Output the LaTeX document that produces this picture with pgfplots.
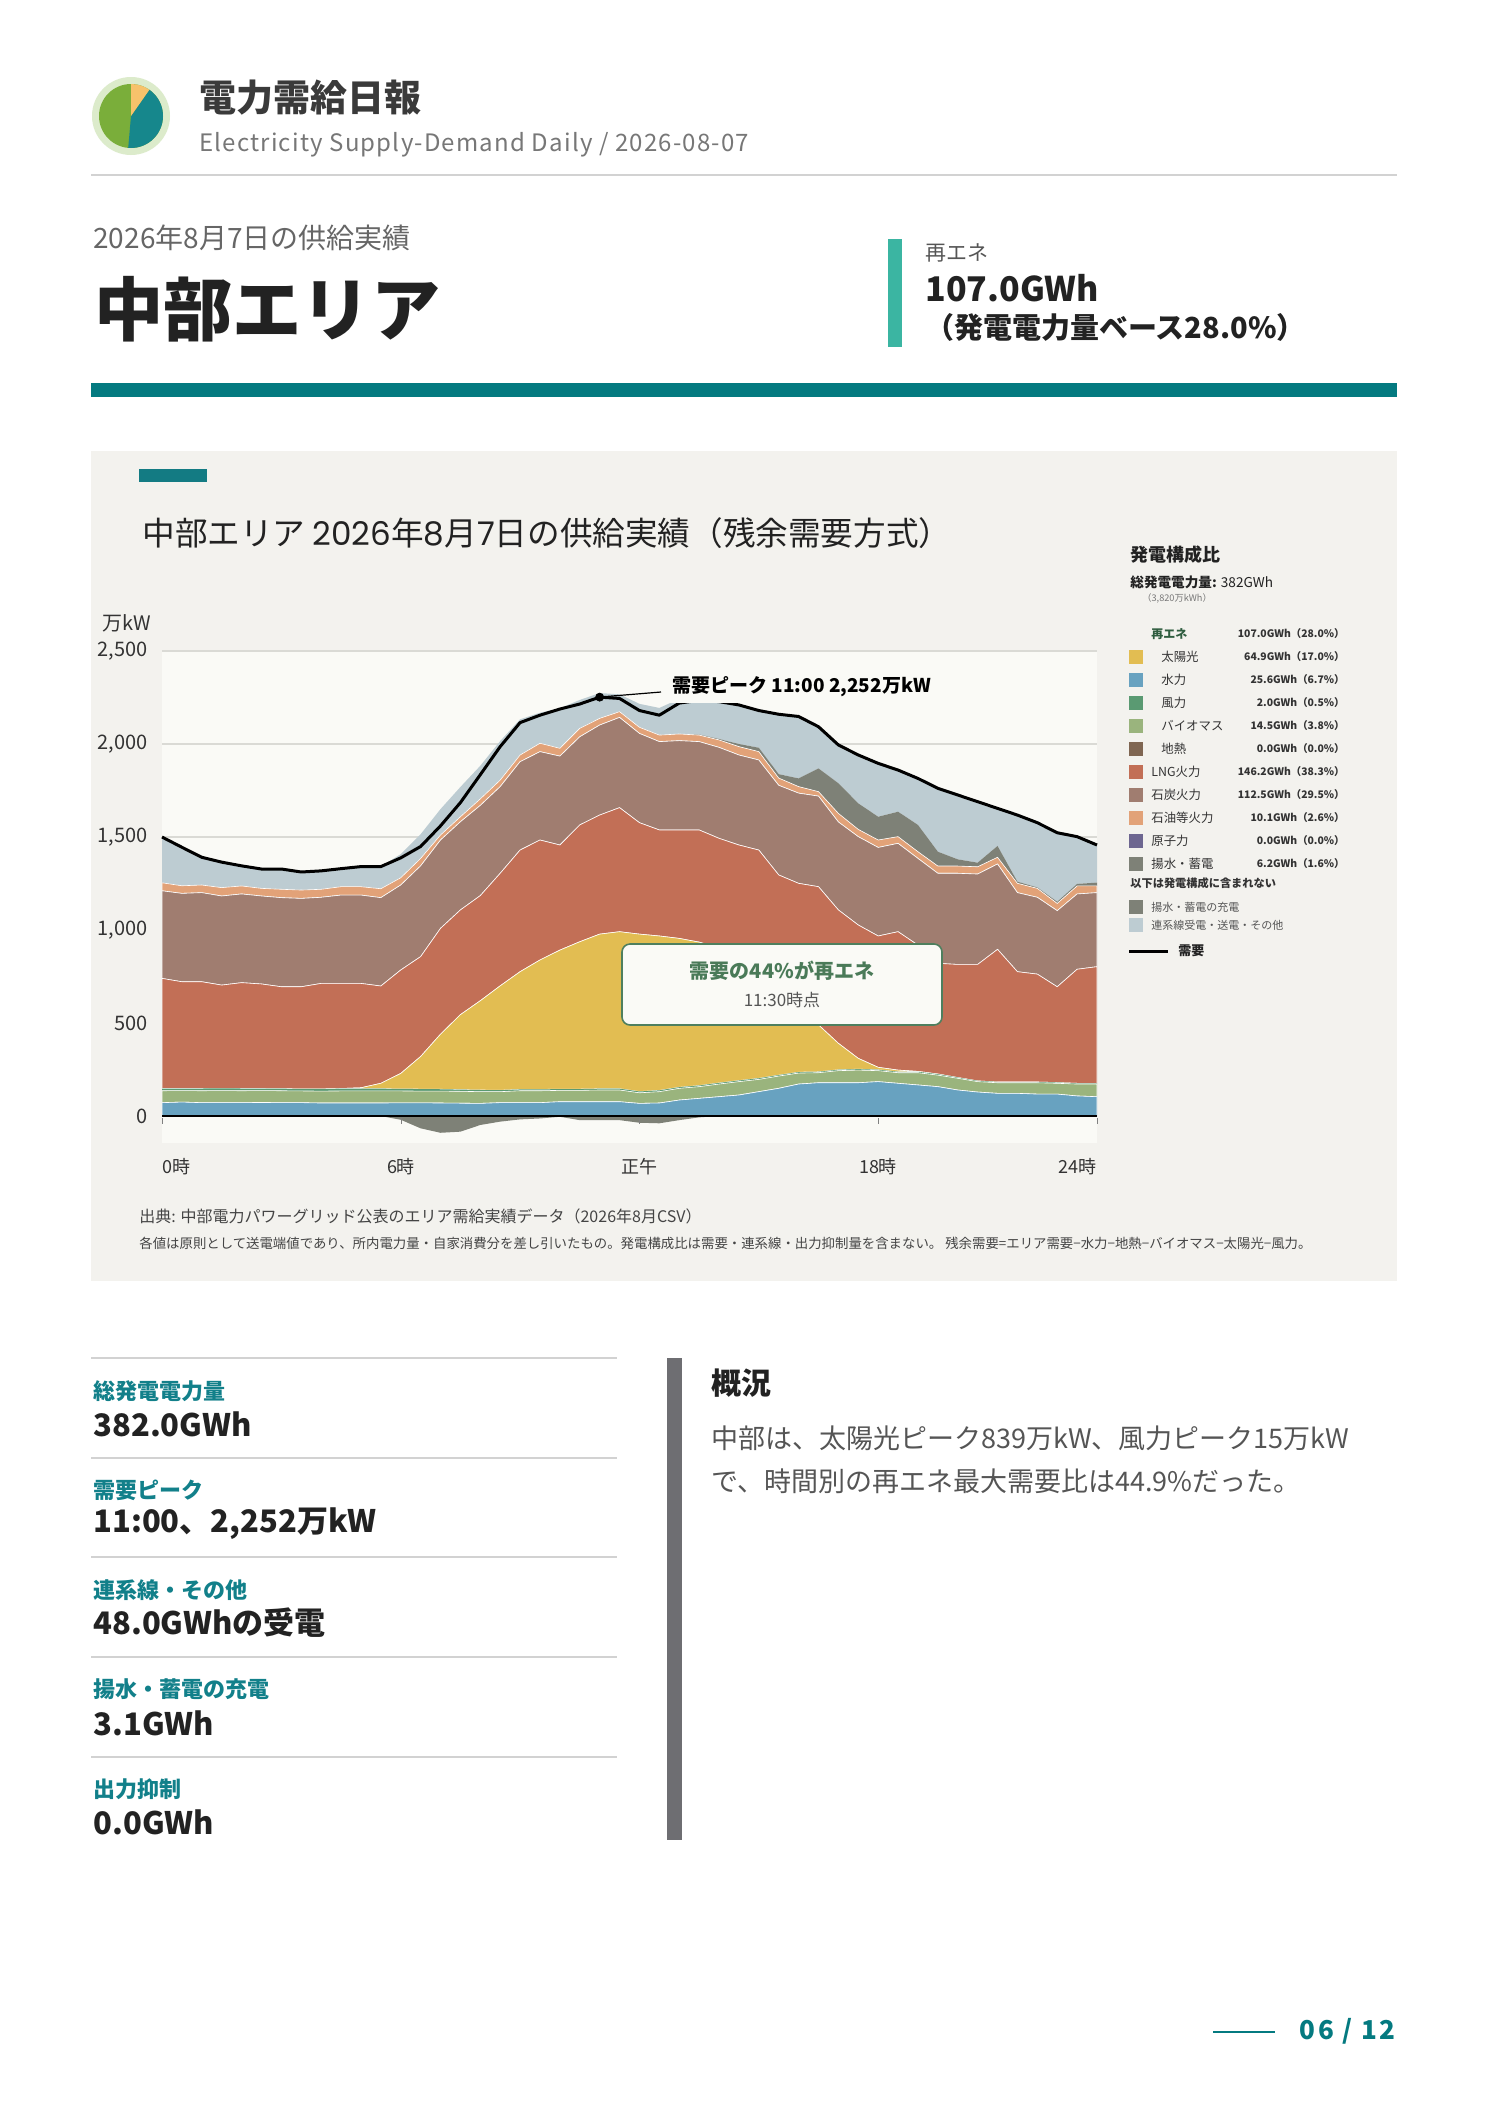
\documentclass[border=0pt]{standalone}
\usepackage{fontspec}
\setmainfont{Noto Sans CJK JP}
\newfontfamily\spaced[LetterSpace=5]{Noto Sans CJK JP}
\newfontfamily\spacedB[LetterSpace=10]{Noto Sans CJK JP}
\newfontfamily\pop{Poppins}
\usepackage{pgfplots}
\pgfplotsset{compat=1.18}
\usepackage{pgfplotstable}

\definecolor{hydroc}{HTML}{68A2C0}
\definecolor{biomc}{HTML}{9AB47D}
\definecolor{windc}{HTML}{5A9A72}
\definecolor{solarc}{HTML}{E2BD52}
\definecolor{geoc}{HTML}{7F6652}
\definecolor{lngc}{HTML}{C26F56}
\definecolor{coalc}{HTML}{A07D70}
\definecolor{oilc}{HTML}{E2A278}
\definecolor{nucc}{HTML}{6D6690}
\definecolor{pumpc}{HTML}{7E8177}
\definecolor{interc}{HTML}{BDCCD2}
\definecolor{plotbg}{HTML}{FAFAF6}
\definecolor{panel}{HTML}{F3F2EE}
\definecolor{gridc}{HTML}{DADAD5}
\definecolor{teal1}{HTML}{047A80}
\definecolor{teal2}{HTML}{137B83}
\definecolor{accent2}{HTML}{3BB5A2}
\definecolor{dark}{HTML}{222222}
\definecolor{hdr}{HTML}{3A3A3A}
\definecolor{subg}{HTML}{777777}
\definecolor{gray66}{HTML}{666666}
\definecolor{gray55}{HTML}{555555}
\definecolor{rulec}{HTML}{D2D2D2}
\definecolor{tickc}{HTML}{333333}
\definecolor{note}{HTML}{444444}
\definecolor{renegreen}{HTML}{2F5D3F}
\definecolor{boxgreen}{HTML}{4E7F5E}
\definecolor{boxtext}{HTML}{4A7A58}
\definecolor{labteal}{HTML}{12808A}
\definecolor{barc}{HTML}{6E6E72}
\definecolor{logoring}{HTML}{DCEBCB}
\definecolor{logogreen}{HTML}{7AAE3A}
\definecolor{logoteal}{HTML}{16878C}
\definecolor{logoorange}{HTML}{F7C26B}

\newcommand\fs[1]{\fontsize{#1}{#1}\selectfont}

\pgfplotstableread{
t Z H B W S L C O P X Q D
0.0 0 72 64 12 0 592 471 43 0 246 0 1500
0.5 0 75 62 11 0 574 475 41 0 207 0 1445
1.0 0 72 64 12 0 574 479 41 0 149 0 1391
1.5 0 72 65 12 0 555 479 45 0 137 0 1365
2.0 0 72 64 12 0 569 477 43 0 108 0 1345
2.5 0 73 64 11 0 562 473 41 0 104 0 1328
3.0 0 72 64 11 0 548 479 45 0 109 0 1328
3.5 0 72 63 11 0 549 475 45 0 97 0 1312
4.0 0 70 64 12 0 567 463 43 0 99 0 1318
4.5 0 70 65 12 1 565 475 45 0 97 0 1330
5.0 0 70 65 12 5 561 475 45 0 108 0 1341
5.5 0 70 65 12 29 523 475 48 0 119 0 1341
6.0 0 71 64 11 83 556 457 39 0 127 -20 1388
6.5 0 71 63 11 175 537 488 40 0 130 -66 1449
7.0 0 70 64 10 296 569 475 27 0 139 -90 1560
7.5 0 69 64 9 403 563 474 27 0 160 -84 1685
8.0 0 68 63 9 480 565 485 35 0 178 -48 1835
8.5 0 72 59 8 561 605 466 35 0 210 -30 1986
9.0 0 72 64 7 633 654 475 36 0 192 -18 2115
9.5 0 72 64 7 696 645 475 45 0 164 -13 2155
10.0 0 77 61 7 747 565 478 42 0 215 -4 2188
10.5 0 77 61 7 792 628 474 45 0 153 -22 2215
11.0 0 77 63 7 831 640 484 36 0 136 -22 2252
11.5 0 77 63 7 844 667 485 31 0 93 -22 2245
12.0 0 68 57 7 846 599 480 33 0 126 -36 2180
12.5 0 70 61 7 830 570 475 35 0 146 -39 2155
13.0 0 86 63 6 800 583 480 36 0 188 -22 2220
13.5 0 95 63 6 771 603 475 35 3 191 -7 2235
14.0 0 104 68 6 727 588 489 40 5 201 0 2228
14.5 0 113 72 6 669 597 484 45 14 210 0 2210
15.0 0 131 66 6 597 630 484 45 21 200 0 2180
15.5 0 149 66 5 500 576 482 39 21 322 0 2160
16.0 0 172 59 5 394 621 485 35 44 333 0 2148
16.5 0 179 54 5 252 743 487 24 125 224 0 2093
17.0 0 179 65 5 142 717 473 46 162 206 0 1995
17.5 0 179 68 5 58 717 475 39 140 260 0 1941
18.0 0 185 59 5 13 706 476 40 125 287 0 1896
18.5 0 176 57 5 9 744 475 36 134 224 0 1860
19.0 0 167 66 5 2 679 466 36 144 250 0 1815
19.5 0 158 62 5 1 595 484 39 77 341 0 1762
20.0 0 140 63 4 0 608 490 39 36 346 0 1726
20.5 0 129 56 4 0 626 486 39 22 328 0 1690
21.0 0 122 57 4 0 713 459 36 61 202 0 1654
21.5 0 122 57 4 0 593 425 50 9 358 0 1618
22.0 0 118 61 4 0 580 413 48 5 348 0 1577
22.5 0 118 58 4 0 515 409 39 9 371 0 1523
23.0 0 108 64 4 0 613 405 43 11 254 0 1502
23.5 0 104 68 4 0 627 398 36 18 202 0 1457
}\data

\pgfplotsset{chartbox/.style={
  at={(81pt,-571.5pt)}, anchor=south west,
  width=467.5pt, height=246pt, scale only axis,
  xmin=0, xmax=23.5, ymin=-145, ymax=2500}}

\begin{document}
\begin{tikzpicture}
\begin{scope}[x=0.5pt,y=-0.5pt]
\useasboundingbox (0,0) rectangle (1488,2105);
\fill[white] (0,0) rectangle (1488,2105);
% logo
\begin{scope}[shift={(131,116)},yscale=-1]
\fill[logoring] (0,0) circle (39);
\fill[logogreen] (0,0) circle (32);
\fill[logoteal] (0,0) -- (55:32) arc[start angle=55,end angle=-95,radius=32] -- cycle;
\fill[logoorange] (0,0) -- (90:32) arc[start angle=90,end angle=55,radius=32] -- cycle;
\end{scope}
\node[anchor=west,inner sep=0,text=hdr] at (199,98) {\fs{18.5}\bfseries 電力需給日報};
\node[anchor=west,inner sep=0,text=subg] at (199,145) {\spaced\fs{12}Electricity Supply-Demand Daily / 2026-08-07};
\draw[rulec,line width=1pt] (91,175) -- (1397,175);
\node[anchor=west,inner sep=0,text=gray66] at (93,238) {\fs{14}2026年8月7日の供給実績};
\node[anchor=west,inner sep=0,text=dark] at (94,309) {\fs{34.6}\bfseries 中部エリア};
\fill[accent2] (888,239) rectangle (902,347);
\node[anchor=west,inner sep=0,text=gray55] at (925,253) {\fs{10.5}再エネ};
\node[anchor=west,inner sep=0,text=dark] at (925,288) {\fs{17}\bfseries 107.0GWh};
\node[anchor=west,inner sep=0,text=dark] at (925,327) {\fs{14.5}\bfseries （発電電力量ベース28.0\%）};
\fill[teal1] (91,383) rectangle (1397,397);
% panel
\fill[panel] (91,451) rectangle (1397,1281);
\fill[teal2] (139,469) rectangle (207,482);
\node[anchor=west,inner sep=0,text=dark] at (142,533) {\fs{16.3}中部エリア {\pop 2026}年{\pop 8}月{\pop 7}日の供給実績（残余需要方式）};
\node[anchor=west,inner sep=0,text=tickc] at (102,623) {\fs{10}万kW};
% x tick labels
\node[anchor=west,inner sep=0,text=tickc] at (162,1167) {\fs{9}0時};
\node[inner sep=0,text=tickc] at (401,1167) {\fs{9}6時};
\node[inner sep=0,text=tickc] at (639,1167) {\fs{9}正午};
\node[inner sep=0,text=tickc] at (878,1167) {\fs{9}18時};
\node[anchor=east,inner sep=0,text=tickc] at (1097,1167) {\fs{9}24時};
% legend block
\node[anchor=west,inner sep=0,text=dark] at (1130,555) {\fs{9}\bfseries 発電構成比};
\node[anchor=west,inner sep=0,text=dark] at (1130,582) {\fs{6.8}\bfseries 総発電電力量: \mdseries 382GWh};
\node[anchor=west,inner sep=0,text=subg] at (1142,598) {\fs{4.6}（3,820万kWh）};
\node[anchor=west,inner sep=0,text=renegreen] at (1151,634) {\fs{6}\bfseries 再エネ};
\node[anchor=east,inner sep=0,text=tickc] at (1345,634) {\fs{5.2}\bfseries 107.0GWh（28.0\%）};
\fill[solarc] (1129,650) rectangle (1143,664);
\node[anchor=west,inner sep=0,text=tickc] at (1161,657) {\fs{6.2}太陽光};
\node[anchor=east,inner sep=0,text=tickc] at (1345,657) {\fs{5.2}\bfseries 64.9GWh（17.0\%）};
\fill[hydroc] (1129,673) rectangle (1143,687);
\node[anchor=west,inner sep=0,text=tickc] at (1161,680) {\fs{6.2}水力};
\node[anchor=east,inner sep=0,text=tickc] at (1345,680) {\fs{5.2}\bfseries 25.6GWh（6.7\%）};
\fill[windc] (1129,696) rectangle (1143,710);
\node[anchor=west,inner sep=0,text=tickc] at (1161,703) {\fs{6.2}風力};
\node[anchor=east,inner sep=0,text=tickc] at (1345,703) {\fs{5.2}\bfseries 2.0GWh（0.5\%）};
\fill[biomc] (1129,719) rectangle (1143,733);
\node[anchor=west,inner sep=0,text=tickc] at (1161,726) {\fs{6.2}バイオマス};
\node[anchor=east,inner sep=0,text=tickc] at (1345,726) {\fs{5.2}\bfseries 14.5GWh（3.8\%）};
\fill[geoc] (1129,742) rectangle (1143,756);
\node[anchor=west,inner sep=0,text=tickc] at (1161,749) {\fs{6.2}地熱};
\node[anchor=east,inner sep=0,text=tickc] at (1345,749) {\fs{5.2}\bfseries 0.0GWh（0.0\%）};
\fill[lngc] (1129,765) rectangle (1143,779);
\node[anchor=west,inner sep=0,text=tickc] at (1151,772) {\fs{6.2}LNG火力};
\node[anchor=east,inner sep=0,text=tickc] at (1345,772) {\fs{5.2}\bfseries 146.2GWh（38.3\%）};
\fill[coalc] (1129,788) rectangle (1143,802);
\node[anchor=west,inner sep=0,text=tickc] at (1151,795) {\fs{6.2}石炭火力};
\node[anchor=east,inner sep=0,text=tickc] at (1345,795) {\fs{5.2}\bfseries 112.5GWh（29.5\%）};
\fill[oilc] (1129,811) rectangle (1143,825);
\node[anchor=west,inner sep=0,text=tickc] at (1151,818) {\fs{6.2}石油等火力};
\node[anchor=east,inner sep=0,text=tickc] at (1345,818) {\fs{5.2}\bfseries 10.1GWh（2.6\%）};
\fill[nucc] (1129,834) rectangle (1143,848);
\node[anchor=west,inner sep=0,text=tickc] at (1151,841) {\fs{6.2}原子力};
\node[anchor=east,inner sep=0,text=tickc] at (1345,841) {\fs{5.2}\bfseries 0.0GWh（0.0\%）};
\fill[pumpc] (1129,857) rectangle (1143,871);
\node[anchor=west,inner sep=0,text=tickc] at (1151,864) {\fs{6.2}揚水・蓄電};
\node[anchor=east,inner sep=0,text=tickc] at (1345,864) {\fs{5.2}\bfseries 6.2GWh（1.6\%）};
\node[anchor=west,inner sep=0,text=tickc] at (1130,883) {\fs{5.6}\bfseries 以下は発電構成に含まれない};
\fill[pumpc] (1129,900) rectangle (1143,914);
\node[anchor=west,inner sep=0,text=gray55] at (1151,907) {\fs{5.5}揚水・蓄電の充電};
\fill[interc] (1129,918) rectangle (1143,932);
\node[anchor=west,inner sep=0,text=gray55] at (1151,925) {\fs{5.5}連系線受電・送電・その他};
\draw[black,line width=1.5pt] (1129,951) -- (1168,951);
\node[anchor=west,inner sep=0,text=dark] at (1178,951) {\fs{6.5}\bfseries 需要};
% footnotes
\node[anchor=west,inner sep=0,text=note] at (139,1216) {\fs{8}出典: 中部電力パワーグリッド公表のエリア需給実績データ（2026年8月CSV）};
\node[anchor=west,inner sep=0,text=note] at (139,1243) {\fs{6.7}各値は原則として送電端値であり、所内電力量・自家消費分を差し引いたもの。発電構成比は需要・連系線・出力抑制量を含まない。 残余需要=エリア需要−水力−地熱−バイオマス−太陽光−風力。};
% lower section
\foreach \yy in {1358,1458,1557,1657,1757} {\draw[rulec,line width=0.8pt] (91,\yy) -- (617,\yy);}
\node[anchor=west,inner sep=0,text=labteal] at (93,1391) {\fs{11}\bfseries 総発電電力量};
\node[anchor=west,inner sep=0,text=dark] at (93,1424) {\fs{15.5}\bfseries 382.0GWh};
\node[anchor=west,inner sep=0,text=labteal] at (93,1490) {\fs{11}\bfseries 需要ピーク};
\node[anchor=west,inner sep=0,text=dark] at (93,1524) {\fs{15.5}\bfseries 11:00、2,252万kW};
\node[anchor=west,inner sep=0,text=labteal] at (93,1590) {\fs{11}\bfseries 連系線・その他};
\node[anchor=west,inner sep=0,text=dark] at (93,1623) {\fs{15.5}\bfseries 48.0GWhの受電};
\node[anchor=west,inner sep=0,text=labteal] at (93,1689) {\fs{11}\bfseries 揚水・蓄電の充電};
\node[anchor=west,inner sep=0,text=dark] at (93,1723) {\fs{15.5}\bfseries 3.1GWh};
\node[anchor=west,inner sep=0,text=labteal] at (93,1789) {\fs{11}\bfseries 出力抑制};
\node[anchor=west,inner sep=0,text=dark] at (93,1822) {\fs{15.5}\bfseries 0.0GWh};
\fill[barc] (667,1358) rectangle (682,1840);
\node[anchor=west,inner sep=0,text=dark] at (711,1383) {\fs{15}\bfseries 概況};
\node[anchor=west,inner sep=0,text=gray55] at (711,1438) {\fs{13.5}中部は、太陽光ピーク839万kW、風力ピーク15万kW};
\node[anchor=west,inner sep=0,text=gray55] at (711,1481) {\fs{13.5}で、時間別の再エネ最大需要比は44.9\%だった。};
% footer
\draw[teal1,line width=1pt] (1213,2032) -- (1275,2032);
\node[anchor=east,inner sep=0,text=teal1] at (1396,2031) {\spacedB\fs{13}\bfseries 06 / 12};
\end{scope}

% stacked supply
\begin{axis}[chartbox,
  axis line style={draw=none},
  axis background/.style={fill=plotbg},
  xtick=\empty,
  ytick={0,500,1000,1500,2000,2500},
  major tick length=0pt,
  ymajorgrids, grid style={gridc,line width=0.7pt},
  scaled y ticks=false,
  yticklabel style={font={\fontsize{10}{10}\selectfont}, text=tickc, inner sep=0pt, xshift=-7pt,
    /pgf/number format/1000 sep={,}, /pgf/number format/assume math mode=true},
  stack plots=y,
]
\addplot[draw=none] table[x=t,y=Z]{\data};
\addplot[fill=hydroc,draw=white,line width=0.3pt] table[x=t,y=H]{\data} \closedcycle;
\addplot[fill=biomc,draw=white,line width=0.3pt] table[x=t,y=B]{\data} \closedcycle;
\addplot[fill=windc,draw=none] table[x=t,y=W]{\data} \closedcycle;
\addplot[fill=solarc,draw=white,line width=0.3pt] table[x=t,y=S]{\data} \closedcycle;
\addplot[fill=lngc,draw=white,line width=0.3pt] table[x=t,y=L]{\data} \closedcycle;
\addplot[fill=coalc,draw=white,line width=0.3pt] table[x=t,y=C]{\data} \closedcycle;
\addplot[fill=oilc,draw=white,line width=0.3pt] table[x=t,y=O]{\data} \closedcycle;
\addplot[fill=pumpc,draw=none] table[x=t,y=P]{\data} \closedcycle;
\addplot[fill=interc,draw=none] table[x=t,y=X]{\data} \closedcycle;
\end{axis}

% charging (negative)
\begin{axis}[chartbox, hide axis, stack plots=y]
\addplot[draw=none] table[x=t,y=Z]{\data};
\addplot[fill=pumpc,draw=none] table[x=t,y=Q]{\data} \closedcycle;
\end{axis}

% demand
\begin{axis}[chartbox, hide axis, clip=false]
\draw[black,line width=1.3pt] (axis cs:0,0) -- (axis cs:23.5,0);
\addplot[black,line width=1.5pt,line join=round] table[x=t,y=D]{\data};
\addplot[only marks,mark=*,mark size=2pt,black] coordinates {(11,2252)};
\end{axis}

\begin{scope}[x=0.5pt,y=-0.5pt]
\foreach \xx in {162,401,639,878,1097} {\draw[gray,line width=0.5pt] (\xx,1118) -- (\xx,1124);}
\draw[black,line width=0.6pt] (600,697) -- (661,692);
\fill[plotbg] (664,671) rectangle (935,703);
\node[anchor=west,inner sep=0,text=black] at (672,687) {\fs{9.5}\bfseries 需要ピーク 11:00 2,252万kW};
\draw[rounded corners=4pt,fill=plotbg,draw=boxgreen,line width=0.8pt] (622,944) rectangle (942,1025);
\node[inner sep=0,text=boxtext] at (782,971) {\fs{10}\bfseries 需要の44\%が再エネ};
\node[inner sep=0,text=gray55] at (782,1000) {\fs{8.5}11:30時点};
\end{scope}
\end{tikzpicture}
\end{document}
